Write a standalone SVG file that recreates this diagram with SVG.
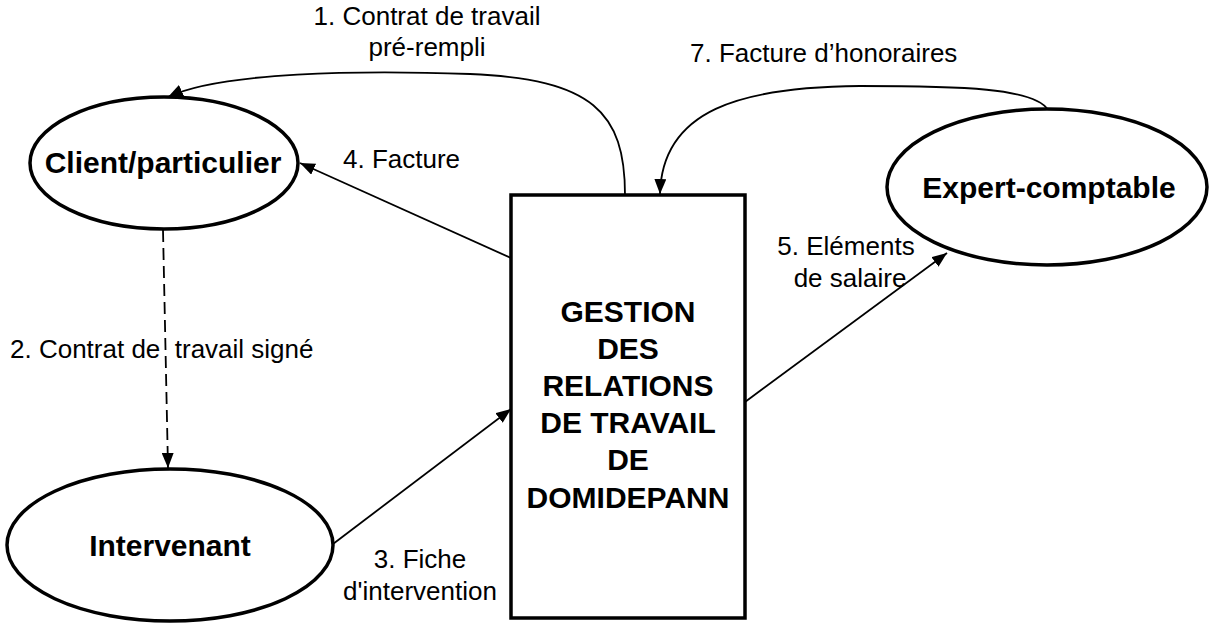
<svg xmlns="http://www.w3.org/2000/svg" width="1209" height="629" viewBox="0 0 1209 629">
<style>
.node{fill:#fff;stroke:#000;stroke-width:3.5}
.nt{font-family:"Liberation Sans",Arial,sans-serif;font-weight:bold;font-size:30px;fill:#000;text-anchor:middle}
.lbl{font-family:"Liberation Sans",Arial,sans-serif;font-size:26px;fill:#000}
.c{fill:none;stroke:#000;stroke-width:1.8}
.dash{stroke-dasharray:12 6}
</style>
<defs>
<marker id="ah" markerUnits="userSpaceOnUse" markerWidth="16" markerHeight="12" refX="15" refY="6" orient="auto">
<path d="M0,0 L15,6 L0,12 z" fill="#000"/>
</marker>
</defs>
<rect width="1209" height="629" fill="#fff"/>
<g id="connectors">
<path class="c" d="M625,195 C625,112 592,79 470,74 C360,70 220,72 168,97" marker-end="url(#ah)"/>
<path class="c dash" d="M163,230 L168,468" marker-end="url(#ah)"/>
<path class="c" d="M511,258 L300,163" marker-end="url(#ah)"/>
<path class="c" d="M333,544 L511,409" marker-end="url(#ah)"/>
<path class="c" d="M745,402 L947,253" marker-end="url(#ah)"/>
<path class="c" d="M1048,110 C1035,88 960,86 860,86 C740,87 662,110 660,194" marker-end="url(#ah)"/>
<text class="lbl" x="427" y="25" text-anchor="middle">1. Contrat de travail</text>
<text class="lbl" x="427" y="56" text-anchor="middle">pré-rempli</text>
<text class="lbl" x="10" y="358" xml:space="preserve">2. Contrat de  travail signé</text>
<text class="lbl" x="420" y="568" text-anchor="middle">3. Fiche</text>
<text class="lbl" x="420" y="600" text-anchor="middle">d'intervention</text>
<text class="lbl" x="343" y="168">4. Facture</text>
<text class="lbl" x="846" y="255" text-anchor="middle">5. Eléments</text>
<text class="lbl" x="850" y="287" text-anchor="middle">de salaire</text>
<text class="lbl" x="690" y="62">7. Facture d’honoraires</text>
</g>
<g id="client">
<ellipse class="node" cx="164" cy="163" rx="134" ry="66"/>
<text class="nt" x="163" y="173">Client/particulier</text>
</g>
<g id="intervenant">
<ellipse class="node" cx="170" cy="545" rx="163" ry="76"/>
<text class="nt" x="170" y="556">Intervenant</text>
</g>
<g id="expert">
<ellipse class="node" cx="1047" cy="187" rx="160" ry="78"/>
<text class="nt" x="1049" y="198">Expert-comptable</text>
</g>
<g id="gestion">
<rect class="node" x="511" y="195" width="234" height="423"/>
<text class="nt" x="628" y="322">GESTION</text>
<text class="nt" x="628" y="359">DES</text>
<text class="nt" x="628" y="396">RELATIONS</text>
<text class="nt" x="628" y="433">DE TRAVAIL</text>
<text class="nt" x="628" y="470">DE</text>
<text class="nt" x="628" y="508">DOMIDEPANN</text>
</g>
</svg>
